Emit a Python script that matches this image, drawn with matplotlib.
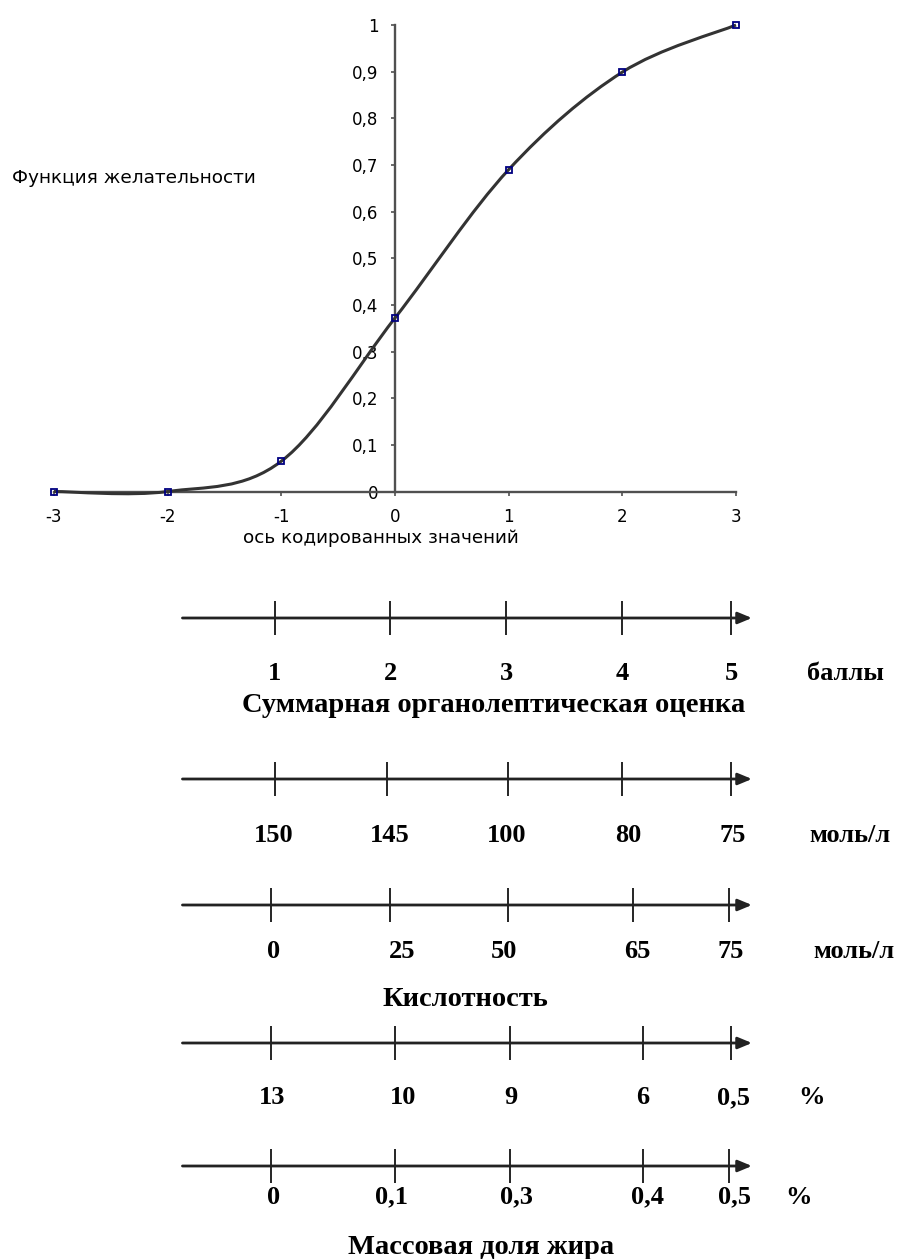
import matplotlib
matplotlib.use("Agg")
import matplotlib.pyplot as plt
import numpy as np
from matplotlib.path import Path
from matplotlib.patches import PathPatch

# данные функции желательности
coded = [-3, -2, -1, 0, 1, 2, 3]
desirability = [0.0, 0.0, 0.065, 0.372, 0.69, 0.899, 1.0]
y_ticks = [0, 0.1, 0.2, 0.3, 0.4, 0.5, 0.6, 0.7, 0.8, 0.9, 1]

# шкалы показателей
score_labels = ['1', '2', '3', '4', '5']
peroxide_labels = ['150', '145', '100', '80', '75']
acidity_labels = ['0', '25', '50', '65', '75']
moisture_labels = ['13', '10', '9', '6', '0,5']
fat_labels = ['0', '0,1', '0,3', '0,4', '0,5']
units = ['баллы', 'моль/л', 'моль/л', '%', '%']

# положение делений на шкалах (в кодированных единицах)
tick_pos = [
    [-1.06, -0.04, 0.98, 2.0, 2.96],
    [-1.06, -0.07, 0.99, 2.0, 2.96],
    [-1.09, -0.04, 0.99, 2.09, 2.94],
    [-1.09, 0.0, 1.01, 2.18, 2.96],
    [-1.09, 0.0, 1.01, 2.18, 2.94],
]
label_pos = [
    [-1.06, -0.04, 0.98, 2.0, 2.96],
    [-1.07, -0.05, 0.98, 2.05, 2.97],
    [-1.07, 0.06, 0.96, 2.13, 2.95],
    [-1.08, 0.07, 1.02, 2.18, 2.98],
    [-1.07, -0.03, 1.07, 2.22, 2.99],
]
line_rows = [618, 779, 905, 1043, 1166]
label_rows = [673, 836, 951, 1098, 1197]
unit_x = [3.96, 4.0, 4.04, 3.66, 3.55]
line_start, line_end = -1.87, 3.14

plt.rcParams['font.family'] = 'DejaVu Sans'

fig = plt.figure(figsize=(9.02, 12.59), dpi=100)

# верхний график
ax = fig.add_axes([54 / 902, 1 - 491.5 / 1259, 682 / 902, 466.5 / 1259])
ax.set_xlim(-3, 3)
ax.set_ylim(0, 1)

pts = np.column_stack([coded, desirability])
ext = np.vstack([pts[0], pts, pts[-1]])
verts = [pts[0]]
codes = [Path.MOVETO]
for i in range(len(pts) - 1):
    p0, p1, p2, p3 = ext[i], ext[i + 1], ext[i + 2], ext[i + 3]
    verts += [p1 + (p2 - p0) / 6, p2 - (p3 - p1) / 6, p2]
    codes += [Path.CURVE4] * 3
curve = PathPatch(Path(verts, codes), fill=False, edgecolor='#333333', lw=2.2, clip_on=False, zorder=3)
ax.add_patch(curve)
ax.plot(coded, desirability, ls='none', marker='s', ms=4, mfc='none', mec='#000080', mew=1.3, clip_on=False, zorder=4)

for s in ['top', 'right']:
    ax.spines[s].set_visible(False)
ax.spines['left'].set_position(('data', 0))
ax.spines['bottom'].set_position(('data', 0))
for s in ['left', 'bottom']:
    ax.spines[s].set_color('#505050')
    ax.spines[s].set_linewidth(1.7)

ax.set_xticks(coded)
ax.set_xticklabels([str(v) for v in coded])
ax.set_yticks(y_ticks)
ax.set_yticklabels([('%g' % v).replace('.', ',') for v in y_ticks])
ax.tick_params(axis='both', direction='out', length=3, width=1.2, color='#505050', labelsize=12, pad=9)

ax.text(-0.12, -0.1, 'ось кодированных значений', ha='center', va='center', fontsize=13.2)
fig.text(12 / 902, 1 - 178 / 1259, 'Функция желательности', ha='left', va='center', fontsize=13.3)

# шкалы внизу
bx = fig.add_axes([54 / 902, 0, 682 / 902, 700 / 1259])
bx.set_xlim(-3, 3)
bx.set_ylim(1259, 559)
bx.axis('off')

scales = [score_labels, peroxide_labels, acidity_labels, moisture_labels, fat_labels]
serif = dict(family='Liberation Serif', weight='bold', fontsize=19)
title_font = dict(family='Liberation Serif', weight='bold', fontsize=20.5)
for k, labels in enumerate(scales):
    row = line_rows[k]
    bx.annotate('', xy=(line_end, row), xytext=(line_start, row),
                arrowprops=dict(arrowstyle='-|>,head_length=0.6,head_width=0.25', mutation_scale=14,
                                color='#222222', lw=2.0, shrinkA=0, shrinkB=0),
                annotation_clip=False)
    bx.vlines(tick_pos[k], row - 17, row + 17, color='black', lw=1.2, clip_on=False)
    for x, lab in zip(label_pos[k], labels):
        bx.text(x, label_rows[k], lab, ha='center', va='center', clip_on=False, **serif)
    bx.text(unit_x[k], label_rows[k], units[k], ha='center', va='center', clip_on=False, **serif)

bx.text(0.87, 705, 'Суммарная органолептическая оценка', ha='center', va='center', **title_font)
bx.text(0.62, 999, 'Кислотность', ha='center', va='center', **title_font)
bx.text(0.76, 1247, 'Массовая доля жира', ha='center', va='center', **title_font)

fig.savefig('out.png', dpi=100)
